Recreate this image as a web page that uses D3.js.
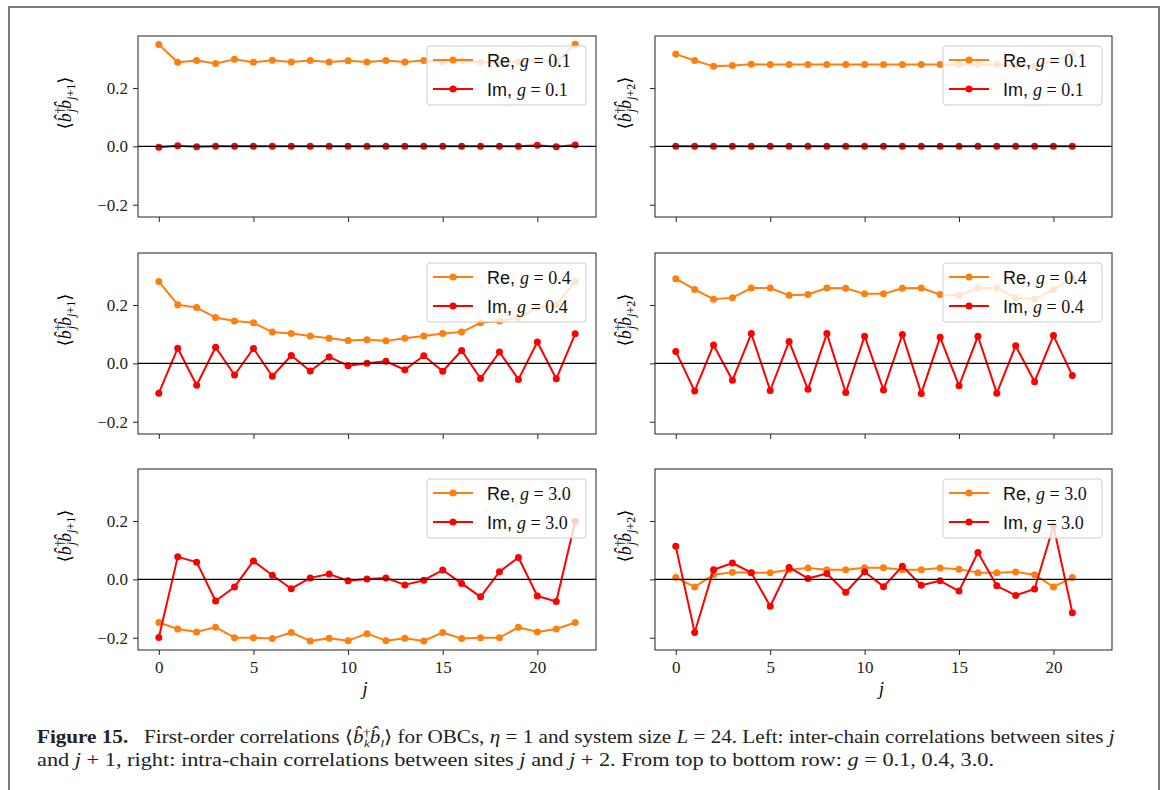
<!DOCTYPE html>
<html>
<head>
<meta charset="utf-8">
<script src="https://cdn.jsdelivr.net/npm/d3@7"></script>
<style>
  body { margin: 0; background: #fff; }
</style>
</head>
<body>
<script>
// sites j (left column: j, j+1 ; right column: j, j+2)
const sitesInter = [0,1,2,3,4,5,6,7,8,9,10,11,12,13,14,15,16,17,18,19,20,21,22];
const sitesIntra = [0,1,2,3,4,5,6,7,8,9,10,11,12,13,14,15,16,17,18,19,20,21];
const gLabels = ["0.1", "0.4", "3.0"];
const yTicks = [-0.2, 0.0, 0.2];
const xTicks = [0, 5, 10, 15, 20];

// g = 0.1
const reInter01 = [0.349,0.288,0.294,0.284,0.298,0.288,0.295,0.289,0.294,0.289,0.293,0.289,0.294,0.289,0.294,0.289,0.294,0.289,0.286,0.290,0.296,0.288,0.350];
const imInter01 = [-0.003,0.002,-0.001,0,0,0,0,0,0,0,0,0,0,0,0,0,0,0,0,0,0.004,-0.001,0.005];
const reIntra01 = [0.316,0.294,0.274,0.277,0.281,0.280,0.280,0.280,0.280,0.280,0.280,0.280,0.280,0.280,0.280,0.280,0.280,0.280,0.277,0.274,0.294,0.316];
const imIntra01 = [0,0,0,0,0,0,0,0,0,0,0,0,0,0,0,0,0,0,0,0,0,0];
// g = 0.4
const reInter04 = [0.280,0.201,0.191,0.157,0.145,0.139,0.107,0.102,0.094,0.086,0.078,0.081,0.077,0.086,0.094,0.102,0.107,0.139,0.145,0.157,0.191,0.201,0.280];
const imInter04 = [-0.102,0.052,-0.075,0.055,-0.040,0.051,-0.044,0.027,-0.026,0.022,-0.008,0.000,0.007,-0.022,0.026,-0.027,0.044,-0.052,0.039,-0.055,0.073,-0.053,0.101];
const reIntra04 = [0.290,0.253,0.220,0.225,0.258,0.258,0.233,0.236,0.258,0.257,0.238,0.238,0.257,0.258,0.236,0.233,0.258,0.258,0.225,0.220,0.253,0.290];
const imIntra04 = [0.041,-0.095,0.063,-0.058,0.102,-0.093,0.075,-0.089,0.102,-0.100,0.093,-0.091,0.099,-0.103,0.089,-0.077,0.093,-0.102,0.060,-0.063,0.095,-0.042];
// g = 3.0
const reInter30 = [-0.148,-0.170,-0.180,-0.164,-0.200,-0.200,-0.203,-0.182,-0.211,-0.202,-0.210,-0.186,-0.210,-0.202,-0.211,-0.182,-0.203,-0.200,-0.200,-0.164,-0.180,-0.170,-0.148];
const imInter30 = [-0.199,0.077,0.059,-0.074,-0.026,0.063,0.014,-0.032,0.005,0.018,-0.005,0.001,0.005,-0.019,-0.003,0.032,-0.014,-0.060,0.026,0.075,-0.057,-0.076,0.198];
const reIntra30 = [0.006,-0.026,0.016,0.024,0.023,0.023,0.033,0.039,0.033,0.033,0.040,0.040,0.033,0.033,0.039,0.035,0.023,0.023,0.025,0.016,-0.026,0.006];
const imIntra30 = [0.113,-0.182,0.033,0.056,0.023,-0.092,0.041,0.003,0.020,-0.044,0.026,-0.025,0.045,-0.020,-0.005,-0.040,0.092,-0.022,-0.055,-0.033,0.183,-0.114];

const ORANGE = "#ff7f0e", RED = "#ff0000";
const serif = "'Liberation Serif', 'DejaVu Serif', serif";
const sans = "'Liberation Sans', Arial, sans-serif";

const W = 1165, H = 790;
const colX = [[138, 596], [655, 1112]];
const rowTop = [36, 253, 469];
const panelH = 181;

const panels = [
  { row: 0, col: 0, sites: sitesInter, re: reInter01, im: imInter01 },
  { row: 0, col: 1, sites: sitesIntra, re: reIntra01, im: imIntra01 },
  { row: 1, col: 0, sites: sitesInter, re: reInter04, im: imInter04 },
  { row: 1, col: 1, sites: sitesIntra, re: reIntra04, im: imIntra04 },
  { row: 2, col: 0, sites: sitesInter, re: reInter30, im: imInter30 },
  { row: 2, col: 1, sites: sitesIntra, re: reIntra30, im: imIntra30 }
];

const svg = d3.select("body").append("svg")
  .attr("width", W).attr("height", H);

svg.append("rect").attr("width", W).attr("height", H).attr("fill", "#fff");
// outer figure frame
svg.append("rect")
  .attr("x", 9).attr("y", 7).attr("width", 1150).attr("height", 820)
  .attr("fill", "none").attr("stroke", "#7a7a7a").attr("stroke-width", 2);

// y label: <b^dagger_j b_{j+k}>
function yLabel(g, cx, cy, shift) {
  const t = g.append("text")
    .attr("transform", `translate(${cx},${cy}) rotate(-90)`)
    .attr("text-anchor", "middle")
    .style("font-family", serif).style("font-size", "18px");
  t.append("tspan").text("\u27E8");
  t.append("tspan").style("font-style", "italic").text("b\u0302");
  t.append("tspan").style("font-size", "12px").attr("dy", -7).text("\u2020");
  t.append("tspan").style("font-size", "12px").style("font-style", "italic").attr("dx", -5).attr("dy", 11).text("j");
  t.append("tspan").style("font-style", "italic").attr("dy", -4).text("b\u0302");
  const s = t.append("tspan").style("font-size", "12px").attr("dy", 4);
  s.append("tspan").style("font-style", "italic").text("j");
  s.append("tspan").text("+" + shift);
  t.append("tspan").attr("dy", -4).text("\u27E9");
}

const line = (x, y) => d3.line().x((d) => x(d[0])).y((d) => y(d[1]));

panels.forEach((p) => {
  const [x0, x1] = colX[p.col];
  const top = rowTop[p.row];
  const x = d3.scaleLinear().domain([-1.1, 23.1]).range([x0, x1]);
  const y = d3.scaleLinear().domain([-0.242, 0.378]).range([top + panelH, top]);
  const g = svg.append("g");

  // axes
  const ya = g.append("g").attr("transform", `translate(${x0},0)`)
    .call(d3.axisLeft(y).tickValues(yTicks).tickSize(5).tickPadding(5)
      .tickFormat((d) => p.col === 0 ? d3.format(".1f")(d).replace("-", "\u2212") : ""));
  const xa = g.append("g").attr("transform", `translate(0,${top + panelH})`)
    .call(d3.axisBottom(x).tickValues(xTicks).tickSize(5).tickPadding(6)
      .tickFormat((d) => p.row === 2 ? d : ""));
  [ya, xa].forEach((a) => {
    a.attr("font-family", null).attr("font-size", null);
    a.select(".domain").remove();
    a.selectAll("line").attr("stroke", "#222");
    a.selectAll("text").style("font-family", serif).style("font-size", "17px").attr("fill", "#222");
  });

  // series
  const series = [
    { vals: p.re, color: ORANGE, name: "Re" },
    { vals: p.im, color: RED, name: "Im" }
  ];
  series.forEach((s) => {
    const pts = p.sites.map((j, i) => [j, s.vals[i]]);
    g.append("path").datum(pts)
      .attr("d", line(x, y))
      .attr("fill", "none").attr("stroke", s.color).attr("stroke-width", 2)
      .attr("stroke-linejoin", "round");
    g.selectAll(null).data(pts).join("circle")
      .attr("cx", (d) => x(d[0])).attr("cy", (d) => y(d[1]))
      .attr("r", 3.5).attr("fill", s.color);
  });

  // zero line
  g.append("line")
    .attr("x1", x0).attr("x2", x1)
    .attr("y1", y(0)).attr("y2", y(0))
    .attr("stroke", "#000").attr("stroke-width", 1.1);

  // frame
  g.append("rect")
    .attr("x", x0).attr("y", top).attr("width", x1 - x0).attr("height", panelH)
    .attr("fill", "none").attr("stroke", "#222").attr("stroke-width", 1);

  // legend
  const lw = 159, lh = 59;
  const lg = g.append("g").attr("transform", `translate(${x1 - 10 - lw},${top + 10})`);
  lg.append("rect").attr("width", lw).attr("height", lh).attr("rx", 3)
    .attr("fill", "#fff").attr("fill-opacity", 0.8)
    .attr("stroke", "#cccccc").attr("stroke-width", 1);
  series.forEach((s, i) => {
    const ly = 14 + i * 29;
    lg.append("line").attr("x1", 6).attr("x2", 46).attr("y1", ly).attr("y2", ly)
      .attr("stroke", s.color).attr("stroke-width", 2);
    lg.append("circle").attr("cx", 26).attr("cy", ly).attr("r", 3.5).attr("fill", s.color);
    const t = lg.append("text").attr("x", 60).attr("y", ly + 6.5)
      .style("font-size", "18px").attr("fill", "#111");
    t.append("tspan").style("font-family", sans).text(s.name + ", ");
    t.append("tspan").style("font-family", serif).style("font-style", "italic").text("g");
    t.append("tspan").style("font-family", serif).text(" = " + gLabels[p.row]);
  });

  // labels
  if (p.col === 0) yLabel(svg, 71, top + 67, 1);
  else yLabel(svg, 631, top + 67, 2);
  if (p.row === 2) {
    svg.append("text")
      .attr("x", (x(0) + x(22)) / 2 - 2).attr("y", 695)
      .attr("text-anchor", "middle")
      .style("font-family", serif).style("font-style", "italic").style("font-size", "18px")
      .text("j");
  }
});

// caption
const cap1 = svg.append("text")
  .style("font-family", serif).style("font-size", "18px").attr("fill", "#222");
cap1.append("tspan").style("font-weight", "bold").text("Figure 15.");
cap1.append("tspan").text("\u00A0\u00A0 First-order correlations \u27E8");
cap1.append("tspan").style("font-style", "italic").text("b\u0302");
cap1.append("tspan").style("font-size", "11px").attr("dy", -7).text("\u2020");
cap1.append("tspan").style("font-size", "11px").style("font-style", "italic").attr("dx", -5).attr("dy", 11).text("k");
cap1.append("tspan").style("font-style", "italic").attr("dy", -4).text("b\u0302");
cap1.append("tspan").style("font-size", "11px").style("font-style", "italic").attr("dy", 4).text("l");
cap1.append("tspan").attr("dy", -4).text("\u27E9 for OBCs, ");
cap1.append("tspan").style("font-style", "italic").text("\u03B7");
cap1.append("tspan").text(" = 1 and system size ");
cap1.append("tspan").style("font-style", "italic").text("L");
cap1.append("tspan").text(" = 24. Left: inter-chain correlations between sites ");
cap1.append("tspan").style("font-style", "italic").text("j");

const cap2 = svg.append("text")
  .style("font-family", serif).style("font-size", "18px").attr("fill", "#222");
cap2.append("tspan").text("and ");
cap2.append("tspan").style("font-style", "italic").text("j");
cap2.append("tspan").text(" + 1, right: intra-chain correlations between sites ");
cap2.append("tspan").style("font-style", "italic").text("j");
cap2.append("tspan").text(" and ");
cap2.append("tspan").style("font-style", "italic").text("j");
cap2.append("tspan").text(" + 2. From top to bottom row: ");
cap2.append("tspan").style("font-style", "italic").text("g");
cap2.append("tspan").text(" = 0.1, 0.4, 3.0.");

// stretch each line horizontally to its width in the reference
function fitLine(t, x, y, target) {
  const w = t.node().getBBox().width;
  t.attr("transform", `translate(${x},${y}) scale(${target / w},1)`);
}
fitLine(cap1, 37, 743, 1078);
fitLine(cap2, 37, 766, 958);
</script>
</body>
</html>
